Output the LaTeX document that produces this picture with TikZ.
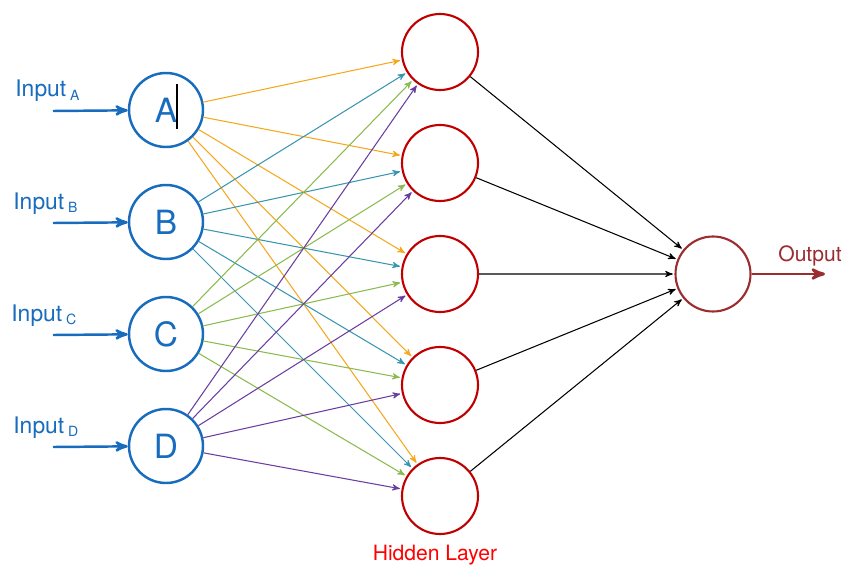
\documentclass[tikz,border=0pt]{standalone}
\usepackage{fontspec}
\setmainfont{TeX Gyre Heros}
\usepackage{tikz}
\usetikzlibrary{arrows,positioning}

\definecolor{inblue}{RGB}{24,108,190}
\definecolor{hidred}{RGB}{192,0,0}
\definecolor{outred}{RGB}{155,45,48}
\definecolor{wA}{RGB}{245,168,30}
\definecolor{wB}{RGB}{58,150,176}
\definecolor{wC}{RGB}{139,187,78}
\definecolor{wD}{RGB}{106,61,160}

\begin{document}
\begin{tikzpicture}[->,>=stealth',shorten >=1pt,auto,node distance=2.24cm,
    innode/.style={circle,draw=inblue,line width=1.4pt,minimum size=1.48cm,inner sep=0pt,
      text=inblue,font=\fontsize{19}{19}\selectfont},
    hidnode/.style={circle,draw=hidred,line width=1.2pt,minimum size=1.52cm,inner sep=0pt},
    outnode/.style={circle,draw=outred,line width=1.2pt,minimum size=1.5cm,inner sep=0pt},
    inlabel/.style={text=inblue,font=\fontsize{13}{13}\selectfont,inner sep=0pt},
    inarrow/.style={draw=inblue,line width=1.4pt,shorten >=0pt},
    w/.style={line width=0.6pt}]

  \useasboundingbox (0,0) rectangle (17.3,-11.58);

  % input layer
  \node[innode] (A) at (3.32,-2.2) {A};
  \node[innode] (B) [below of=A] {B};
  \node[innode] (C) [below of=B] {C};
  \node[innode] (D) [below of=C] {D};

  % hidden layer
  \node[hidnode] (h1) at (8.8,-1.04) {};
  \node[hidnode] (h2) [below of=h1, node distance=2.22cm] {};
  \node[hidnode] (h3) [below of=h2, node distance=2.22cm] {};
  \node[hidnode] (h4) [below of=h3, node distance=2.22cm] {};
  \node[hidnode] (h5) [below of=h4, node distance=2.22cm] {};
  \node[text=red,font=\fontsize{12}{12}\selectfont,inner sep=0pt]
    (hl) [below=0.2cm of h5, xshift=-0.1cm] {Hidden Layer};

  % output
  \node[outnode] (out) at (14.26,-5.48) {};
  \coordinate (oE) at ([xshift=2.24cm]out.center);
  \node[text=outred,font=\fontsize{12}{12}\selectfont,inner sep=0pt]
    (ol) at ([xshift=1.94cm,yshift=0.36cm]out.center) {Output};

  % inputs
  \coordinate (sA) at ([xshift=-2.26cm,yshift=-0.02cm]A.center);
  \coordinate (sB) at ([xshift=-2.26cm,yshift=-0.02cm]B.center);
  \coordinate (sC) at ([xshift=-2.26cm,yshift=-0.02cm]C.center);
  \coordinate (sD) at ([xshift=-2.26cm,yshift=-0.02cm]D.center);
  \node[inlabel,anchor=base west] (lA) at ([xshift=-0.76cm,yshift=0.28cm]sA)
    {Input\,\raisebox{-.3ex}{\fontsize{8}{8}\selectfont A}};
  \node[inlabel,anchor=base west] (lB) at ([xshift=-0.8cm,yshift=0.28cm]sB)
    {Input\,\raisebox{-.3ex}{\fontsize{8}{8}\selectfont B}};
  \node[inlabel,anchor=base west] (lC) at ([xshift=-0.84cm,yshift=0.28cm]sC)
    {Input\,\raisebox{-.3ex}{\fontsize{8}{8}\selectfont C}};
  \node[inlabel,anchor=base west] (lD) at ([xshift=-0.8cm,yshift=0.28cm]sD)
    {Input\,\raisebox{-.3ex}{\fontsize{8}{8}\selectfont D}};

  \draw[inarrow] (sA) -- (A);
  \draw[inarrow] (sB) -- (B);
  \draw[inarrow] (sC) -- (C);
  \draw[inarrow] (sD) -- (D);

  % text cursor
  \draw[-,black,line width=0.6pt] ([xshift=0.22cm,yshift=0.52cm]A.center) -- ++(0,-0.94);

  \draw[w]
  (A) edge[wA] (h1)
  (A) edge[wA] (h2)
  (A) edge[wA] (h3)
  (A) edge[wA] (h4)
  (A) edge[wA] (h5)
  (B) edge[wB] (h1)
  (B) edge[wB] (h2)
  (B) edge[wB] (h3)
  (B) edge[wB] (h4)
  (B) edge[wB] (h5)
  (C) edge[wC] (h1)
  (C) edge[wC] (h2)
  (C) edge[wC] (h3)
  (C) edge[wC] (h4)
  (C) edge[wC] (h5)
  (D) edge[wD] (h1)
  (D) edge[wD] (h2)
  (D) edge[wD] (h3)
  (D) edge[wD] (h4)
  (D) edge[wD] (h5)
  (h1) edge (out)
  (h2) edge (out)
  (h3) edge (out)
  (h4) edge (out)
  (h5) edge (out);

  \draw[outred,line width=1.6pt,shorten >=0pt] (out) -- (oE);

\end{tikzpicture}
\end{document}
